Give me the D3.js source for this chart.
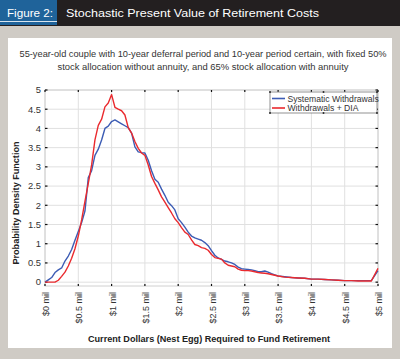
<!DOCTYPE html>
<html><head><meta charset="utf-8">
<script src="https://cdn.jsdelivr.net/npm/d3@7"></script>
<style>body{margin:0;background:#cfcbc5}svg{display:block}</style>
</head><body>
<svg id="c" width="400" height="359"></svg>
<script>
const titleLabel = "Figure 2:";
const titleText = "Stochastic Present Value of Retirement Costs";
const subtitle = ["55-year-old couple with 10-year deferral period and 10-year period certain, with fixed 50%",
                  "stock allocation without annuity, and 65% stock allocation with annuity"];
const xLabel = "Current Dollars (Nest Egg) Required to Fund Retirement";
const yLabel = "Probability Density Function";
const seriesNames = ["Systematic Withdrawals", "Withdrawals + DIA"];
const xTicks = [0,0.5,1,1.5,2,2.5,3,3.5,4,4.5,5];
const xTickLabels = ["$0 mil","$0.5 mil","$1 mil","$1.5 mil","$2 mil","$2.5 mil","$3 mil","$3.5 mil","$4 mil","$4.5 mil","$5 mil"];
const yTicks = [0,0.5,1,1.5,2,2.5,3,3.5,4,4.5,5];
const yTickLabels = ["0","0.5","1","1.5","2","2.5","3","3.5","4","4.5","5"];

const xs = [0,0.05,0.1,0.15,0.2,0.25,0.3,0.35,0.4,0.45,0.5,0.55,0.6,0.65,0.7,0.75,0.8,0.85,0.9,0.95,
  1.0,1.05,1.1,1.15,1.2,1.25,1.3,1.35,1.4,1.45,1.5,1.55,1.6,1.65,1.7,1.75,1.8,1.85,1.9,1.95,
  2.0,2.05,2.1,2.15,2.2,2.25,2.3,2.35,2.4,2.45,2.5,2.55,2.6,2.65,2.7,2.75,2.8,2.85,2.9,2.95,
  3.0,3.05,3.1,3.15,3.2,3.25,3.3,3.35,3.4,3.45,3.5,3.6,3.7,3.8,3.9,4.0,4.1,4.2,4.3,4.4,4.5,4.6,4.7,4.8,4.9,5.0];
const systematic = [0,0.06,0.12,0.25,0.32,0.37,0.55,0.68,0.85,1.09,1.32,1.55,1.85,2.72,2.9,3.3,3.46,3.7,4.0,4.06,
  4.18,4.22,4.17,4.12,4.07,4.02,3.88,3.52,3.39,3.37,3.36,3.17,2.9,2.68,2.6,2.42,2.26,2.08,1.99,1.88,
  1.65,1.55,1.43,1.3,1.2,1.15,1.12,1.09,1.03,0.95,0.82,0.7,0.63,0.59,0.55,0.53,0.5,0.46,0.39,0.35,
  0.34,0.33,0.32,0.3,0.27,0.27,0.29,0.26,0.22,0.19,0.16,0.14,0.12,0.11,0.1,0.08,0.08,0.07,0.06,0.05,0.04,0.04,0.04,0.04,0.04,0.3];
const withDIA = [0,0,0,0,0.05,0.15,0.26,0.42,0.62,0.87,1.2,1.62,2.1,2.57,3.05,3.7,4.08,4.24,4.56,4.66,
  4.88,4.55,4.5,4.46,4.35,4.02,3.88,3.66,3.48,3.36,3.3,3.05,2.75,2.57,2.4,2.22,2.08,1.94,1.8,1.65,
  1.55,1.42,1.3,1.24,1.1,0.98,0.95,0.9,0.88,0.83,0.72,0.64,0.62,0.6,0.5,0.44,0.42,0.4,0.34,0.31,
  0.3,0.3,0.29,0.27,0.25,0.24,0.23,0.22,0.2,0.18,0.16,0.13,0.12,0.11,0.1,0.08,0.08,0.07,0.06,0.05,0.04,0.04,0.03,0.03,0.03,0.36];

const colors = ["#3c5cb4", "#ea2a2e"];
const svg = d3.select("#c");
const font = "'Liberation Sans', Arial, sans-serif";

// background / header
svg.append("rect").attr("x",0).attr("y",0).attr("width",400).attr("height",359).attr("fill","#cfcbc5");
svg.append("rect").attr("x",0).attr("y",0).attr("width",400).attr("height",26).attr("fill","#231f20");
svg.append("rect").attr("x",0).attr("y",0).attr("width",57).attr("height",25).attr("fill","#1f639a");
svg.append("rect").attr("x",0).attr("y",21).attr("width",57).attr("height",1).attr("fill","#d8e4ee");
svg.append("text").attr("x",7).attr("y",17).attr("fill","#fff").attr("font-family",font)
  .attr("font-size",11.5).attr("textLength",46).attr("lengthAdjust","spacingAndGlyphs").text(titleLabel);
svg.append("text").attr("x",66).attr("y",17).attr("fill","#fff").attr("font-family",font)
  .attr("font-size",11.5).attr("textLength",253).attr("lengthAdjust","spacingAndGlyphs").text(titleText);
svg.append("rect").attr("x",8).attr("y",38).attr("width",384).attr("height",310).attr("fill","#fff");

const subLen = [367, 291];
svg.selectAll("text.sub").data(subtitle).enter().append("text").attr("class","sub")
  .attr("x",203).attr("y",(d,i)=>57+i*13).attr("text-anchor","middle").attr("fill","#333")
  .attr("font-family",font).attr("font-size",9.2)
  .attr("textLength",(d,i)=>subLen[i]).attr("lengthAdjust","spacingAndGlyphs").text(d=>d);

const x = d3.scaleLinear().domain([0,5]).range([45,378]);
const y = d3.scaleLinear().domain([-0.1,5]).range([286,90]);

// grid
const g = svg.append("g");
g.selectAll("line.gx").data(xTicks).enter().append("line")
  .attr("x1",d=>x(d)).attr("x2",d=>x(d)).attr("y1",90).attr("y2",286).attr("stroke","#e0e0e0").attr("stroke-width",1);
g.selectAll("line.gy").data(yTicks).enter().append("line")
  .attr("y1",d=>y(d)).attr("y2",d=>y(d)).attr("x1",45).attr("x2",378).attr("stroke","#e0e0e0").attr("stroke-width",1);
g.append("rect").attr("x",45).attr("y",90).attr("width",333).attr("height",196).attr("fill","none").attr("stroke","#d0d0d0");

// ticks (inward dots)
const tk = svg.append("g").attr("stroke","#111").attr("stroke-width",1.2);
xTicks.forEach(t=>{
  tk.append("line").attr("x1",x(t)).attr("x2",x(t)).attr("y1",286).attr("y2",284);
  tk.append("line").attr("x1",x(t)).attr("x2",x(t)).attr("y1",90).attr("y2",92);
});
yTicks.forEach(t=>{
  tk.append("line").attr("x1",45).attr("x2",47.5).attr("y1",y(t)).attr("y2",y(t));
  tk.append("line").attr("x1",378).attr("x2",375.5).attr("y1",y(t)).attr("y2",y(t));
});

// tick labels
svg.selectAll("text.yt").data(yTicks).enter().append("text").attr("class","yt")
  .attr("x",41).attr("y",d=>y(d)+3.3).attr("text-anchor","end").attr("fill","#333")
  .attr("font-family",font).attr("font-size",9.4).text((d,i)=>yTickLabels[i]);
svg.selectAll("text.xt").data(xTicks).enter().append("text").attr("class","xt")
  .attr("transform",d=>`translate(${x(d)+4},292) rotate(-90)`).attr("text-anchor","end").attr("fill","#333")
  .attr("font-family",font).attr("font-size",9).text((d,i)=>xTickLabels[i]);

// axis titles
svg.append("text").attr("x",209).attr("y",342).attr("text-anchor","middle").attr("fill","#222")
  .attr("font-family",font).attr("font-weight","bold").attr("font-size",9)
  .attr("textLength",242).attr("lengthAdjust","spacingAndGlyphs").text(xLabel);
svg.append("text").attr("transform","translate(19,203) rotate(-90)").attr("text-anchor","middle").attr("fill","#222")
  .attr("font-family",font).attr("font-weight","bold").attr("font-size",9)
  .attr("textLength",123).attr("lengthAdjust","spacingAndGlyphs").text(yLabel);

// lines
const line = d3.line().x((d,i)=>x(xs[i])).y(d=>y(d));
[systematic, withDIA].forEach((s,k)=>{
  svg.append("path").datum(s).attr("d",line).attr("fill","none").attr("stroke",colors[k])
    .attr("stroke-width",1.4).attr("stroke-linejoin","round");
});

// legend
const lg = svg.append("g");
lg.append("rect").attr("x",270).attr("y",92).attr("width",107).attr("height",21).attr("fill","#fff").attr("stroke","#777").attr("stroke-width",0.8);
[[270,92],[323.5,92],[377,92],[270,113],[323.5,113],[377,113]].forEach(p=>{
  lg.append("rect").attr("x",p[0]-0.8).attr("y",p[1]-0.8).attr("width",1.6).attr("height",1.6).attr("fill","#111");
});
seriesNames.forEach((n,k)=>{
  const yy = 98.5 + k*9.5;
  lg.append("line").attr("x1",272).attr("x2",285).attr("y1",yy).attr("y2",yy).attr("stroke",colors[k]).attr("stroke-width",1.6);
  lg.append("text").attr("x",287.5).attr("y",yy+3).attr("fill","#333").attr("font-family",font).attr("font-size",8.6).text(n);
});
</script>
</body></html>
